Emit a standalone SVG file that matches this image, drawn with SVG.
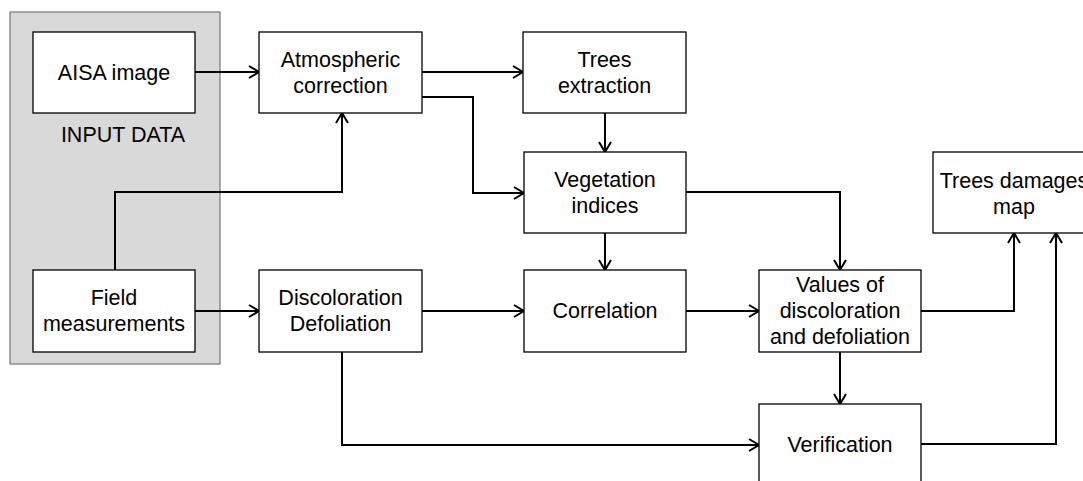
<svg xmlns="http://www.w3.org/2000/svg" width="1083" height="481" viewBox="0 0 1083 481">
<style>
.box{fill:#fff;stroke:#000;stroke-width:1.3}
.t{font-family:"Liberation Sans",Arial,sans-serif;font-size:21.5px;fill:#000;text-anchor:middle}
.c{fill:none;stroke:#000;stroke-width:2}
</style>
<defs>
<marker id="ah" markerUnits="userSpaceOnUse" markerWidth="14" markerHeight="16" viewBox="0 0 14 16" refX="12" refY="8" orient="auto">
<path d="M2,2 L12,8 L2,14" fill="none" stroke="#000" stroke-width="2"/>
</marker>
</defs>
<rect width="1083" height="481" fill="#fff"/>
<g id="input-panel">
<rect x="10" y="12" width="210" height="352" fill="#d9d9d9" stroke="#7f7f7f" stroke-width="1.3"/>
<text class="t" x="123" y="142">INPUT DATA</text>
</g>
<g id="connectors">
<path class="c" d="M195,72 H259" marker-end="url(#ah)"/>
<path class="c" d="M115,270 V192 H342 V113" marker-end="url(#ah)"/>
<path class="c" d="M422,72 H523" marker-end="url(#ah)"/>
<path class="c" d="M422,97 H473 V193 H524" marker-end="url(#ah)"/>
<path class="c" d="M605,113 V152" marker-end="url(#ah)"/>
<path class="c" d="M605,233 V270" marker-end="url(#ah)"/>
<path class="c" d="M686,192 H840 V270" marker-end="url(#ah)"/>
<path class="c" d="M195,311 H259" marker-end="url(#ah)"/>
<path class="c" d="M422,311 H524" marker-end="url(#ah)"/>
<path class="c" d="M686,311 H759" marker-end="url(#ah)"/>
<path class="c" d="M921,311 H1014 V233" marker-end="url(#ah)"/>
<path class="c" d="M840,352 V404" marker-end="url(#ah)"/>
<path class="c" d="M342,352 V445 H759" marker-end="url(#ah)"/>
<path class="c" d="M921,444 H1056 V233" marker-end="url(#ah)"/>
</g>
<g id="aisa">
<rect class="box" x="33" y="32" width="162" height="81"/>
<text class="t" x="114" y="80">AISA image</text>
</g>
<g id="field">
<rect class="box" x="33" y="270" width="162" height="82"/>
<text class="t" x="114" y="305">Field</text>
<text class="t" x="114" y="331">measurements</text>
</g>
<g id="atmospheric">
<rect class="box" x="259" y="32" width="163" height="81"/>
<text class="t" x="340.5" y="67">Atmospheric</text>
<text class="t" x="340.5" y="93">correction</text>
</g>
<g id="trees-extraction">
<rect class="box" x="523" y="32" width="163" height="81"/>
<text class="t" x="604.5" y="67">Trees</text>
<text class="t" x="604.5" y="93">extraction</text>
</g>
<g id="vegetation">
<rect class="box" x="524" y="152" width="162" height="81"/>
<text class="t" x="605" y="187">Vegetation</text>
<text class="t" x="605" y="213">indices</text>
</g>
<g id="discoloration">
<rect class="box" x="259" y="270" width="163" height="82"/>
<text class="t" x="340.5" y="305">Discoloration</text>
<text class="t" x="340.5" y="331">Defoliation</text>
</g>
<g id="correlation">
<rect class="box" x="524" y="270" width="162" height="82"/>
<text class="t" x="605" y="318">Correlation</text>
</g>
<g id="values">
<rect class="box" x="759" y="270" width="162" height="82"/>
<text class="t" x="840" y="292">Values of</text>
<text class="t" x="840" y="318">discoloration</text>
<text class="t" x="840" y="344">and defoliation</text>
</g>
<g id="damages-map">
<rect class="box" x="933" y="152" width="162" height="81"/>
<text class="t" x="1014" y="188">Trees damages</text>
<text class="t" x="1014" y="214">map</text>
</g>
<g id="verification">
<rect class="box" x="759" y="404" width="162" height="82"/>
<text class="t" x="840" y="452">Verification</text>
</g>
</svg>
